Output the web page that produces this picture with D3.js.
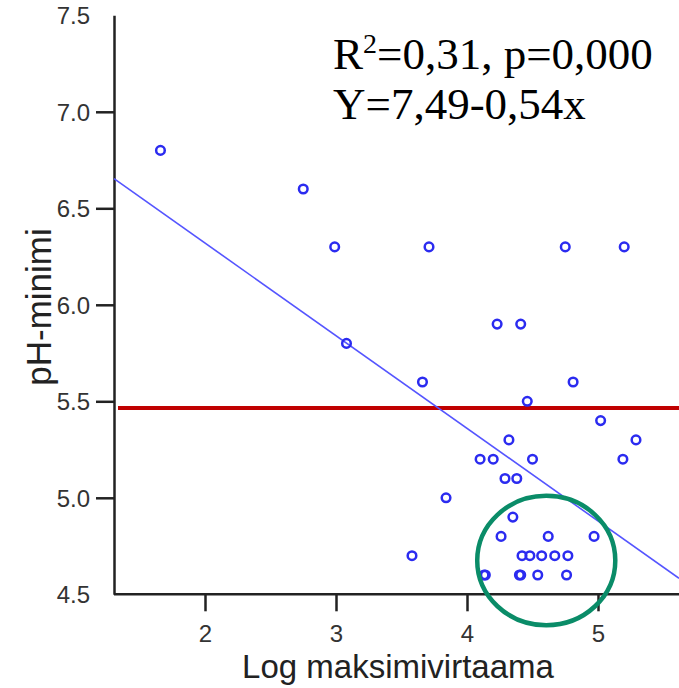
<!DOCTYPE html>
<html>
<head>
<meta charset="utf-8">
<script src="https://cdn.jsdelivr.net/npm/d3@7"></script>
<style>
  body { margin: 0; background: #fff; }
  svg { display: block; }
  .tick text { font-family: "Liberation Sans", Arial, sans-serif; fill: #333; }
</style>
</head>
<body>
<svg width="679" height="688"></svg>
<script>
// log max flow vs pH minimum
var logFlow = [1.66, 2.75, 2.99, 3.71, 4.75, 5.20, 4.23, 4.41, 3.08, 3.66, 4.81, 4.46, 5.02,
               4.32, 5.29, 4.10, 4.20, 4.50, 5.19, 4.29, 4.38, 3.84, 4.35, 4.26, 4.62, 4.97,
               3.58, 4.42, 4.48, 4.57, 4.67, 4.77, 4.14, 4.13, 4.40, 4.41, 4.54, 4.76];
var phMin = [6.8, 6.6, 6.3, 6.3, 6.3, 6.3, 5.9, 5.9, 5.8, 5.6, 5.6, 5.5, 5.4,
             5.3, 5.3, 5.2, 5.2, 5.2, 5.2, 5.1, 5.1, 5.0, 4.9, 4.8, 4.8, 4.8,
             4.7, 4.7, 4.7, 4.7, 4.7, 4.7, 4.6, 4.6, 4.6, 4.6, 4.6, 4.6];
var xTicks = [2, 3, 4, 5];
var yTicks = [4.5, 5.0, 5.5, 6.0, 6.5, 7.0, 7.5];
// fitted line as drawn, and reference level
var fitIntercept = 7.28, fitSlope = -0.48;
var refLevel = 5.465;
// marked group
var groupCenter = [4.605, 4.675], groupRadius = [0.527, 0.335];
var statLines = ["=0,31, p=0,000", "Y=7,49-0,54x"];

var svg = d3.select("svg");

var x = d3.scaleLinear().domain([2, 5]).range([205, 598]);
var y = d3.scaleLinear().domain([4.5, 7.5]).range([594.3, 15.3]);
var xMin = x.invert(114), xMax = x.invert(679);

// axes
var yAxis = svg.append("g")
    .attr("transform", "translate(114,0)")
    .call(d3.axisLeft(y).tickValues(yTicks).tickFormat(d3.format(".1f")).tickSize(18).tickPadding(6).tickSizeOuter(0));
yAxis.select(".domain").attr("stroke", "#222").attr("stroke-width", 2.5);
yAxis.selectAll(".tick line").attr("stroke", "#222").attr("stroke-width", 2.5)
    .filter(function(d) { return d == 4.5 || d == 7.5; }).remove();
yAxis.selectAll(".tick text").attr("font-size", 24).attr("dy", "0.36em");

var xAxis = svg.append("g")
    .attr("transform", "translate(0,594.3)")
    .call(d3.axisBottom(x).tickValues(xTicks).tickFormat(d3.format("d")).tickSize(17).tickPadding(14).tickSizeOuter(0));
xAxis.select(".domain").attr("d", "M114,0H679").attr("stroke", "#222").attr("stroke-width", 2.5);
xAxis.selectAll(".tick line").attr("stroke", "#222").attr("stroke-width", 2.5);
xAxis.selectAll(".tick text").attr("font-size", 24);

// axis titles
svg.append("text")
    .attr("x", 398).attr("y", 678)
    .attr("text-anchor", "middle")
    .attr("font-family", "Liberation Sans, Arial, sans-serif")
    .attr("font-size", 33).attr("fill", "#222")
    .text("Log maksimivirtaama");

svg.append("text")
    .attr("transform", "translate(51,307) rotate(-90)")
    .attr("text-anchor", "middle")
    .attr("font-family", "Liberation Sans, Arial, sans-serif")
    .attr("font-size", 35).attr("fill", "#222")
    .text("pH-minimi");

// reference line (red)
svg.append("line")
    .attr("x1", 118).attr("x2", 679)
    .attr("y1", y(refLevel)).attr("y2", y(refLevel))
    .attr("stroke", "#c00000").attr("stroke-width", 4);

// regression line
svg.append("line")
    .attr("x1", x(xMin)).attr("y1", y(fitIntercept + fitSlope * xMin))
    .attr("x2", x(xMax)).attr("y2", y(fitIntercept + fitSlope * xMax))
    .attr("stroke", "#5555ff").attr("stroke-width", 1.6);

// points
svg.selectAll(".pt")
    .data(logFlow)
    .enter().append("circle")
    .attr("class", "pt")
    .attr("cx", function(d) { return x(d); })
    .attr("cy", function(d, i) { return y(phMin[i]); })
    .attr("r", 4.3)
    .attr("fill", "none")
    .attr("stroke", "#2b2bf0")
    .attr("stroke-width", 2.5);

// green ellipse
svg.append("ellipse")
    .attr("cx", x(groupCenter[0])).attr("cy", y(groupCenter[1]))
    .attr("rx", x(groupCenter[0] + groupRadius[0]) - x(groupCenter[0]))
    .attr("ry", y(groupCenter[1]) - y(groupCenter[1] + groupRadius[1]))
    .attr("fill", "none")
    .attr("stroke", "#0a8c68")
    .attr("stroke-width", 4.5);

// stats text
var t1 = svg.append("text")
    .attr("x", 333).attr("y", 69)
    .attr("font-family", "Liberation Serif, Times New Roman, serif")
    .attr("font-size", 45).attr("fill", "#000");
t1.append("tspan").text("R");
t1.append("tspan").attr("dy", -16).attr("font-size", 28).text("2");
t1.append("tspan").attr("dy", 16).text(statLines[0]);

svg.append("text")
    .attr("x", 333).attr("y", 119)
    .attr("font-family", "Liberation Serif, Times New Roman, serif")
    .attr("font-size", 45).attr("fill", "#000")
    .text(statLines[1]);
</script>
</body>
</html>
